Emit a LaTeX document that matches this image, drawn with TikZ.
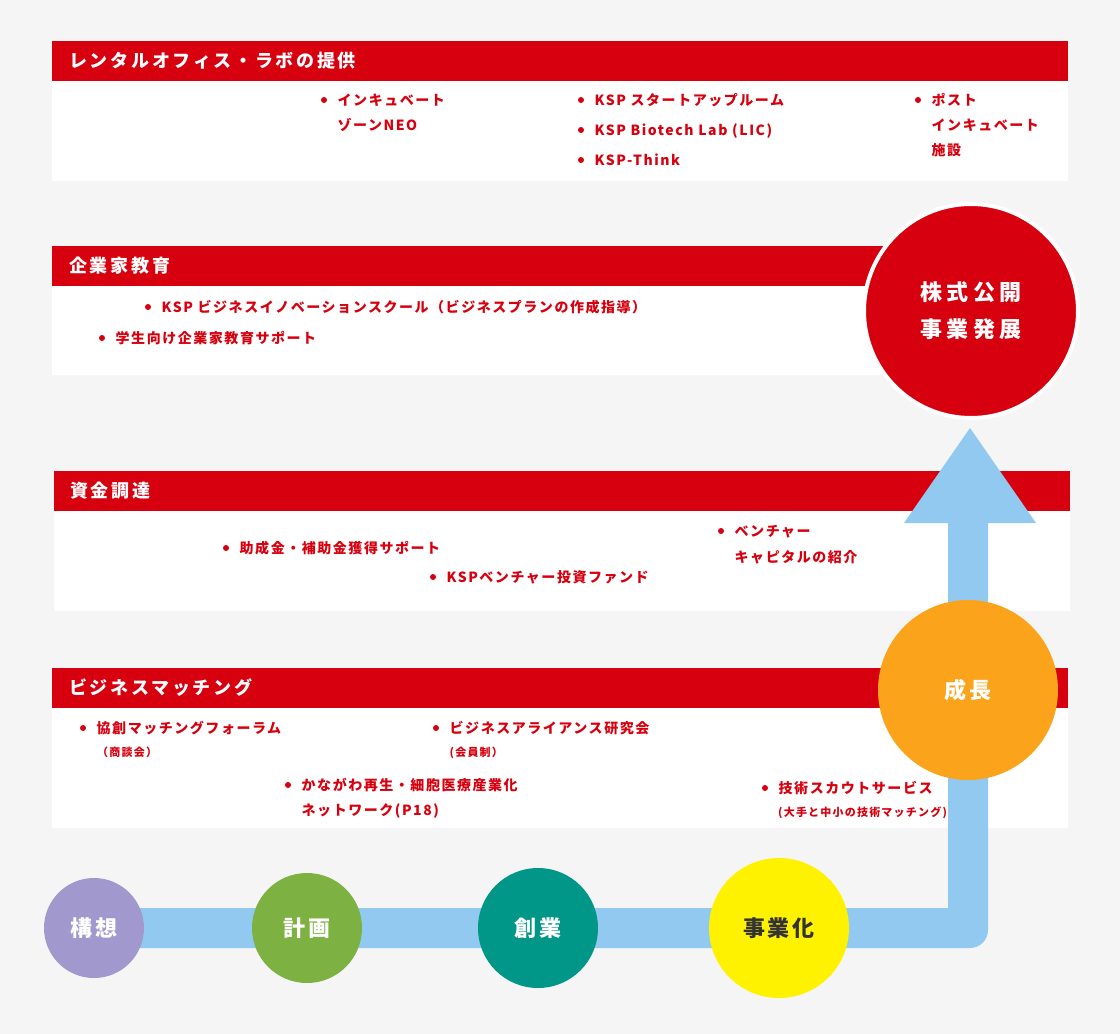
\documentclass[tikz,border=0pt]{standalone}
\usepackage{fontspec}
\setmainfont{Noto Sans CJK JP}
\newfontfamily\hdf{Noto Sans CJK JP}[LetterSpace=15]
\newfontfamily\itf{Noto Sans CJK JP}[LetterSpace=11]
\newfontfamily\cif{Noto Sans CJK JP}[LetterSpace=12]
\newfontfamily\ipof{Noto Sans CJK JP}[LetterSpace=20]
\definecolor{ksred}{HTML}{D7000F}
\definecolor{ksblue}{HTML}{92C9F1}
\definecolor{ksbg}{HTML}{F5F5F5}
\definecolor{kspurple}{HTML}{A198CE}
\definecolor{ksgreen}{HTML}{7DB242}
\definecolor{ksteal}{HTML}{009688}
\definecolor{ksyellow}{HTML}{FFF200}
\definecolor{ksorange}{HTML}{FCA31C}
\definecolor{ksdark}{HTML}{333333}
\tikzset{
  hdr/.style={fill=ksred, draw=none, anchor=north west, inner sep=0, minimum height=40pt},
  body/.style={fill=white, draw=none, anchor=north west, inner sep=0},
  hdrtext/.style={anchor=west, inner sep=0, text=white, font=\hdf\bfseries\fontsize{18pt}{20pt}\selectfont, text height=14pt, text depth=1pt},
  itm/.style={anchor=west, inner sep=0, text=ksred, font=\itf\bfseries\fontsize{14pt}{16pt}\selectfont, text height=11pt, text depth=1pt},
  smallitm/.style={anchor=west, inner sep=0, text=ksred, font=\itf\bfseries\fontsize{11pt}{13pt}\selectfont, text height=8.5pt, text depth=0.8pt},
  dot/.style={circle, fill=ksred, inner sep=0, minimum size=6pt},
  stage/.style={circle, inner sep=0, text=white, font=\cif\bfseries\fontsize{22pt}{26pt}\selectfont},
}
\newcommand\bitem[4]{\node[dot] (#1d) at (#2,#3) {};
  \node[itm] (#1) at ([xshift=13.5pt]#1d.center) {#4};}
\begin{document}
\begin{tikzpicture}[x=1pt,y=-1pt]
\useasboundingbox (0,0) rectangle (1120,1034);
\fill[ksbg] (0,0) rectangle (1120,1034);
% panels
\node[body, minimum width=1016pt, minimum height=140pt] (p1) at (52,41) {};
\node[hdr, minimum width=1016pt] (h1) at (52,41) {};
\node[body, minimum width=948pt, minimum height=129pt] (p2) at (52,246) {};
\node[hdr, minimum width=948pt] (h2) at (52,246) {};
\node[body, minimum width=1016pt, minimum height=140pt] (p3) at (54,471) {};
\node[hdr, minimum width=1016pt] (h3) at (54,471) {};
\node[body, minimum width=1016pt, minimum height=160pt] (p4) at (52,668) {};
\node[hdr, minimum width=1016pt] (h4) at (52,668) {};
% blue path and arrow
\coordinate (bstart) at (94,908);
\coordinate (tip) at (970,428);
\fill[ksblue] (bstart) -- (948,908) -- (948,523) -- (904,523) -- (tip) -- (1036,523) -- (988,523)
  -- (988,930) arc[start angle=0, end angle=-90, radius=18pt] -- (94,948) -- cycle;
% header titles
\node[hdrtext] (t1) at (69,61) {レンタルオフィス・ラボの提供};
\node[hdrtext] (t2) at (69,266) {企業家教育};
\node[hdrtext] (t3) at (70,491) {資金調達};
\node[hdrtext] (t4) at (69,688) {ビジネスマッチング};
% panel 1 items
\bitem{r1}{324}{100}{インキュベート}
\node[itm] (r1b) at (337.5,125) {ゾーンNEO};
\bitem{r2}{581}{100}{KSP スタートアップルーム}
\bitem{r3}{581}{130}{KSP Biotech Lab (LIC)}
\bitem{r4}{581}{160}{KSP-Think}
\bitem{r5}{918}{100}{ポスト}
\node[itm] (r5b) at (931.5,125) {インキュベート};
\node[itm] (r5c) at (931.5,150) {施設};
% panel 2 items
\bitem{e1}{148}{307}{KSP ビジネスイノベーションスクール（ビジネスプランの作成指導）}
\bitem{e2}{102}{338}{学生向け企業家教育サポート}
% panel 3 items
\bitem{f1}{226}{548}{助成金・補助金獲得サポート}
\bitem{f2}{433}{577}{KSPベンチャー投資ファンド}
\bitem{f3}{721}{531}{ベンチャー}
\node[itm] (f3b) at (734.5,557) {キャピタルの紹介};
% panel 4 items
\bitem{m1}{83}{728}{協創マッチングフォーラム}
\node[smallitm] (m1b) at (97,753) {（商談会）};
\bitem{m2}{436}{728}{ビジネスアライアンス研究会}
\node[smallitm] (m2b) at (449.5,753) {(会員制）};
\bitem{m3}{288}{785}{かながわ再生・細胞医療産業化}
\node[itm] (m3b) at (301.5,810) {ネットワーク(P18)};
\bitem{m4}{765}{788}{技術スカウトサービス}
\node[smallitm] (m4b) at (778,813) {(大手と中小の技術マッチング)};
% circles
\node[stage, fill=ksorange, minimum size=180pt] (seicho) at (968,690) {成長};
\node[stage, fill=ksred, draw=white, line width=4pt, minimum size=214pt, align=center,
  font=\ipof\bfseries\fontsize{22pt}{37pt}\selectfont] (ipo) at (971,311) {株式公開\\事業発展};
\node[stage, fill=kspurple, minimum size=100pt] (kousou) at (94,928) {構想};
\node[stage, fill=ksgreen, minimum size=110pt] (keikaku) at (307,928) {計画};
\node[stage, fill=ksteal, minimum size=120pt] (sougyou) at (538,928) {創業};
\node[stage, fill=ksyellow, text=ksdark, minimum size=140pt] (jigyouka) at (779,928) {事業化};
\end{tikzpicture}
\end{document}
